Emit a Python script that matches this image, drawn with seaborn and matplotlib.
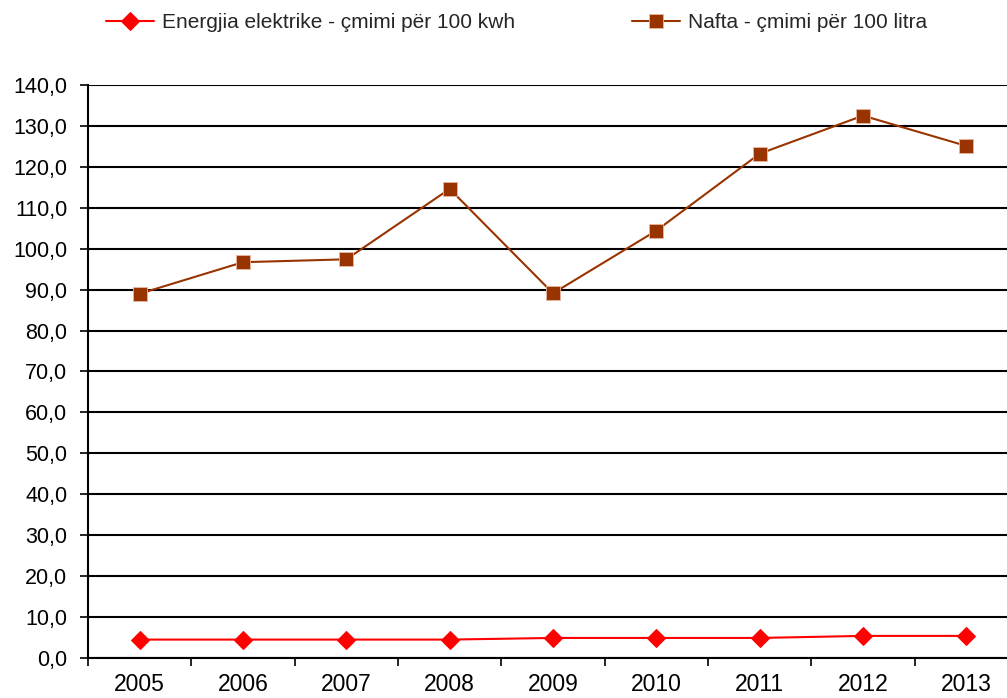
import matplotlib.pyplot as plt
import matplotlib.ticker as mticker
import numpy as np
import pandas as pd
import seaborn as sns

years = ['2005', '2006', '2007', '2008', '2009', '2010', '2011', '2012', '2013']
energjia = [4.5, 4.5, 4.5, 4.5, 4.9, 4.9, 4.9, 5.4, 5.4]
nafta = [89.0, 96.7, 97.4, 114.6, 89.1, 104.4, 123.2, 132.5, 125.1]
label_energjia = 'Energjia elektrike - çmimi për 100 kwh'
label_nafta = 'Nafta - çmimi për 100 litra'

sns.set_theme(style='white')
plt.rcParams['font.family'] = ['Liberation Sans', 'DejaVu Sans']

df = pd.DataFrame({'x': np.arange(len(years)), 'energjia': energjia, 'nafta': nafta})

fig = plt.figure(figsize=(10.07, 6.98), dpi=100)
ax = fig.add_axes([0.0874, 0.0573, 0.9235, 0.821])

#horizontal grid lines
ax.set_axisbelow(True)
ax.yaxis.grid(True, color='black', linewidth=1.5)

sns.lineplot(data=df, x='x', y='energjia', ax=ax, color='#FF0000', linewidth=1.5,
             marker='D', markersize=9, markeredgecolor='#FF0000', label=label_energjia)
sns.lineplot(data=df, x='x', y='nafta', ax=ax, color='#993300', linewidth=1.5,
             marker='s', markersize=10.5, markeredgecolor='#E8B8A0', markeredgewidth=0.6,
             label=label_nafta)

ax.set_ylim(0, 140)
ax.set_xlim(-0.5, len(years) - 0.5)
ax.set_yticks(np.arange(0, 141, 10))
ax.yaxis.set_major_formatter(mticker.FuncFormatter(lambda v, p: f'{v:.1f}'.replace('.', ',')))

ax.set_xticks(np.arange(len(years)))
ax.set_xticklabels(years)
ax.set_xticks(np.arange(-0.5, len(years), 1), minor=True)
ax.tick_params(axis='x', which='major', length=0, pad=11, labelsize=16.5, colors='black')
ax.tick_params(axis='x', which='minor', length=6, width=1.2, direction='out', color='black', bottom=True)
ax.tick_params(axis='y', which='major', length=6, width=1.2, direction='out', color='black',
               left=True, pad=9, labelsize=15.5, labelcolor='black')

for s in ['top', 'right']:
    ax.spines[s].set_visible(False)
for s in ['left', 'bottom']:
    ax.spines[s].set_color('black')
    ax.spines[s].set_linewidth(1.5)

ax.set_xlabel('')
ax.set_ylabel('')

ax.get_legend().remove()
h, l = ax.get_legend_handles_labels()
fig.legend(h, l, loc='center left', bbox_to_anchor=(0.105, 1 - 23 / 698), ncol=2, frameon=False,
           fontsize=15, handlelength=2.3, handletextpad=0.4, columnspacing=5.6,
           borderpad=0, borderaxespad=0)

fig.savefig('out.png', dpi=100)
